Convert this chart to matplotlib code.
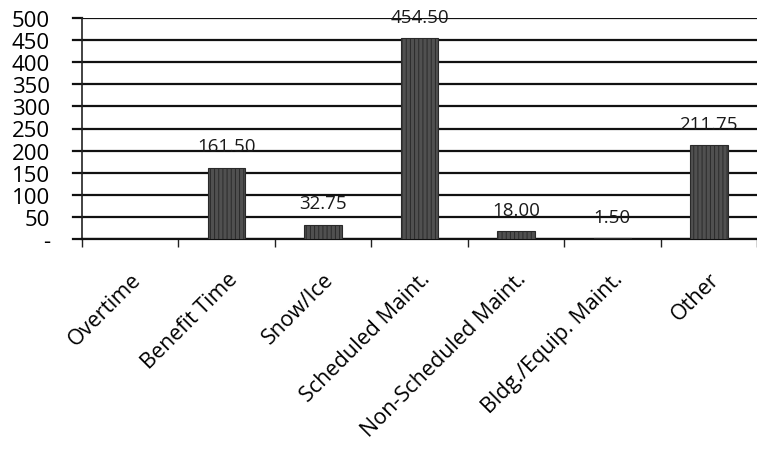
import matplotlib
matplotlib.use("Agg")
import matplotlib.pyplot as plt
import numpy as np

categories = ["Overtime", "Benefit Time", "Snow/Ice", "Scheduled Maint.",
              "Non-Scheduled Maint.", "Bldg./Equip. Maint.", "Other"]
values = [0.0, 161.50, 32.75, 454.50, 18.00, 1.50, 211.75]
value_labels = ["", "161.50", "32.75", "454.50", "18.00", "1.50", "211.75"]
yticks = [0, 50, 100, 150, 200, 250, 300, 350, 400, 450, 500]
ytick_labels = ["-", "50", "100", "150", "200", "250", "300", "350", "400", "450", "500"]

plt.rcParams['font.family'] = ['Open Sans', 'DejaVu Sans']
plt.rcParams['hatch.color'] = "#8f8f8f"
plt.rcParams['hatch.linewidth'] = 0.7

W, H = 757, 456
fig = plt.figure(figsize=(W / 100, H / 100), dpi=100)
left, right, top, bottom = 82, 757, 19, 240
ax = fig.add_axes([left / W, 1 - bottom / H, (right - left) / W, (bottom - top) / H])

x = np.arange(len(categories))
ax.bar(x, values, width=0.39, color="#505050", edgecolor="#2a2a2a",
       hatch="||||", linewidth=0.8, zorder=3)

for xi, v, lab in zip(x, values, value_labels):
    if lab:
        ax.text(xi, v + 28, lab, ha="center", va="bottom", fontsize=13.5,
                color="#1a1a1a", zorder=4)

ax.set_ylim(0, 500)
ax.set_xlim(-0.5, -0.5 + (right - left) / 97.5)
ax.set_yticks(yticks)
ax.set_yticklabels(ytick_labels, fontsize=16)
ax.yaxis.grid(True, color="#111111", linewidth=1.6, zorder=0)
ax.set_axisbelow(True)
ax.tick_params(axis="y", length=0, pad=23)

ax.set_xticks(np.arange(-0.5, len(categories) + 0.5, 1.0), minor=False)
ax.set_xticklabels([])
ax.tick_params(axis="x", which="major", length=6, width=1, color="#222222", direction="out")
ax.set_xticks(x, minor=True)
ax.set_xticklabels(categories, minor=True, rotation=45, ha="right",
                   rotation_mode="anchor", fontsize=15.5)
ax.tick_params(axis="x", which="minor", length=0, pad=21)

for s in ["top", "right"]:
    ax.spines[s].set_visible(False)
ax.spines["left"].set_color("#222222")
ax.spines["left"].set_linewidth(1.2)
ax.spines["bottom"].set_color("#111111")
ax.spines["bottom"].set_linewidth(1.6)

# short stubs extending grid lines to the left of the axis
for yv in yticks:
    ax.plot([-0.5 - 9 / 97.5, -0.5], [yv, yv], color="#111111", lw=1.6,
            clip_on=False, zorder=2)

fig.savefig("out.png", dpi=100)
